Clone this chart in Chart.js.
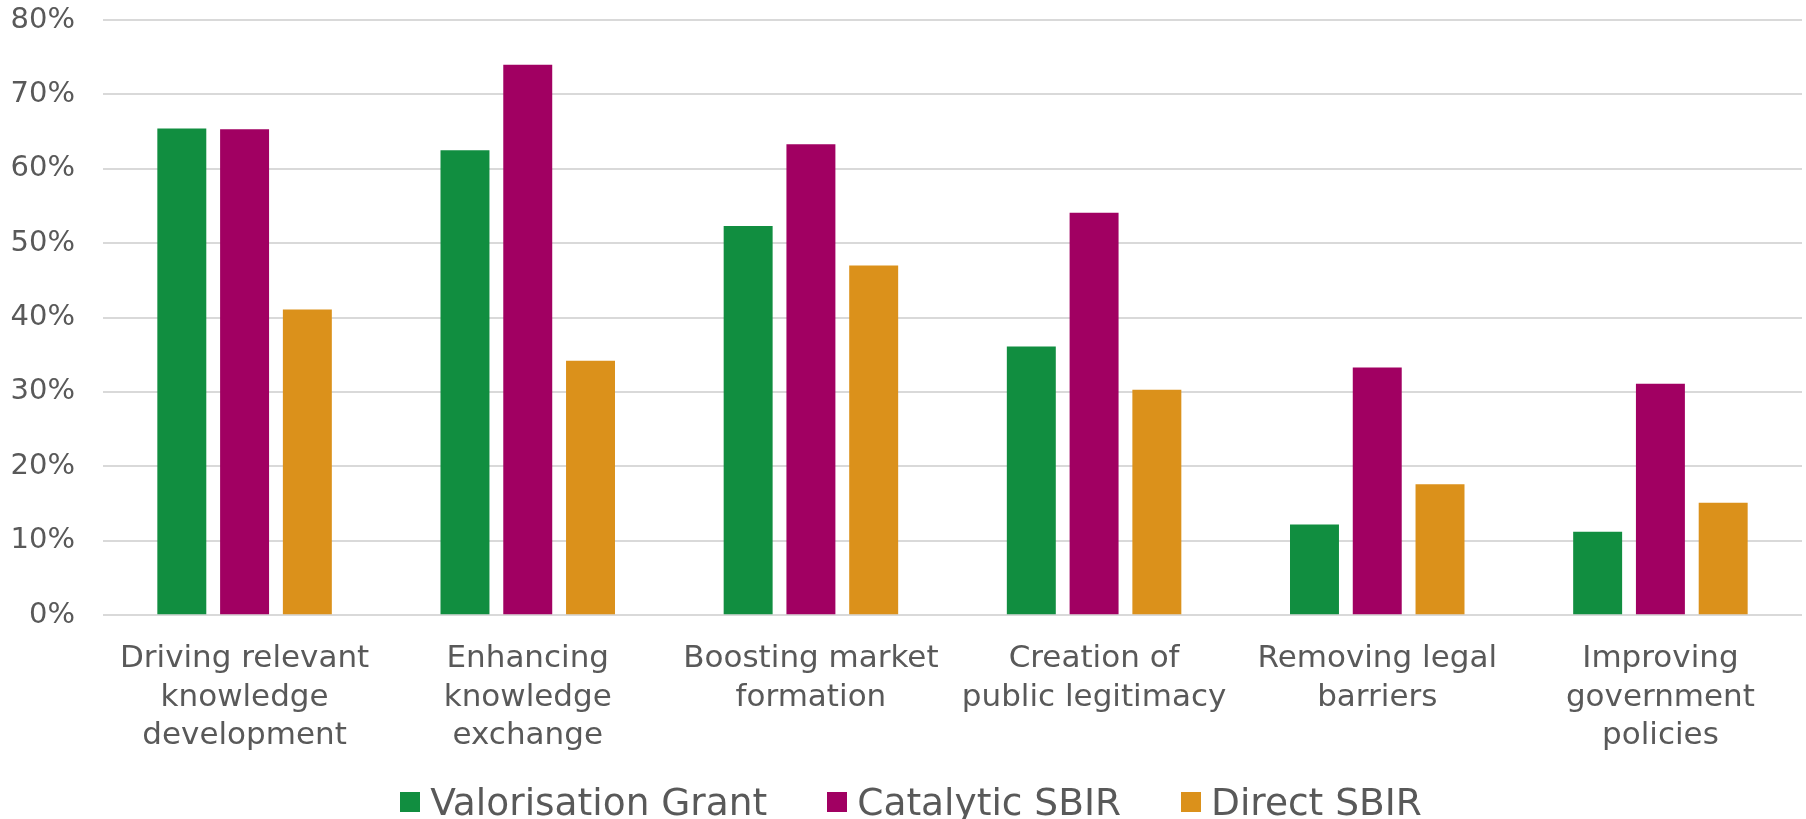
<!DOCTYPE html>
<html>
<head>
<meta charset="utf-8">
<title>Innovation system functions by instrument</title>
<script src="https://cdn.jsdelivr.net/npm/chart.js@4.4.1/dist/chart.umd.min.js"></script>
<style>
    html, body { margin: 0; padding: 0; background: #fff; }
    #wrap { width: 1806px; height: 819px; position: relative; }
    #legend {
        position: absolute;
        left: 16px;
        right: 0;
        top: 782px;
        height: 40px;
        display: flex;
        justify-content: center;
        align-items: center;
        font-family: Verdana, "DejaVu Sans", sans-serif;
        font-size: 37.5px;
        line-height: 40px;
        color: #595959;
    }
    .legend-item { display: flex; align-items: center; margin: 0 30px; white-space: nowrap; }
    .legend-box { width: 20px; height: 20px; margin-right: 10px; }
</style>
</head>
<body>
<div id="wrap">
    <canvas id="functions-chart"></canvas>
    <div id="legend"></div>
</div>
<script>
// Share of respondents per system function, in percent
const categories = [
    ['Driving relevant', 'knowledge', 'development'],
    ['Enhancing', 'knowledge', 'exchange'],
    ['Boosting market', 'formation'],
    ['Creation of', 'public legitimacy'],
    ['Removing legal', 'barriers'],
    ['Improving', 'government', 'policies']
];
const valorisationGrant = [65.4, 62.5, 52.3, 36.1, 12.2, 11.2];
const catalyticSbir = [65.3, 74.0, 63.3, 54.1, 33.3, 31.1];
const directSbir = [41.1, 34.2, 47.0, 30.3, 17.6, 15.1];
const yTicks = [0, 10, 20, 30, 40, 50, 60, 70, 80];

const textGrey = '#595959';
const fontFamily = 'Verdana, "DejaVu Sans", sans-serif';

let chart = null;

function initChart() {
    const ctx = document.getElementById('functions-chart').getContext('2d');
    chart = new Chart(ctx, {
        type: 'bar',
        data: {
            labels: categories,
            datasets: [
                { label: 'Valorisation Grant', data: valorisationGrant, backgroundColor: '#118e40' },
                { label: 'Catalytic SBIR', data: catalyticSbir, backgroundColor: '#a10062' },
                { label: 'Direct SBIR', data: directSbir, backgroundColor: '#db911b' }
            ]
        },
        options: {
            responsive: true,
            maintainAspectRatio: false,
            animation: false,
            datasets: {
                bar: {
                    categoryPercentage: 0.665,
                    barPercentage: 0.78
                }
            },
            layout: {
                // bottom space is taken by the HTML legend
                padding: { top: 20, right: 4, left: 0, bottom: 39 }
            },
            plugins: {
                tooltip: { enabled: false },
                legend: { display: false }
            },
            scales: {
                x: {
                    grid: { display: false, drawTicks: false },
                    border: { display: false },
                    ticks: {
                        color: textGrey,
                        padding: 25,
                        maxRotation: 0,
                        autoSkip: false,
                        font: { family: fontFamily, size: 31, lineHeight: 1.235 }
                    }
                },
                y: {
                    min: 0,
                    max: 80,
                    afterBuildTicks: (scale) => {
                        scale.ticks = yTicks.map(v => ({ value: v }));
                    },
                    afterFit: (scale) => {
                        scale.width = 103;
                        scale.paddingTop = 0;
                        scale.paddingBottom = 0;
                    },
                    grid: {
                        color: '#d9d9d9',
                        lineWidth: 2,
                        drawTicks: false
                    },
                    border: { display: false },
                    ticks: {
                        color: textGrey,
                        padding: 28,
                        font: { family: fontFamily, size: 29 },
                        callback: (v) => v + '%'
                    }
                }
            }
        }
    });
}

// Legend built from the chart datasets
function buildLegend() {
    const legend = document.getElementById('legend');
    legend.innerHTML = chart.data.datasets.map(ds => `
        <div class="legend-item">
            <span class="legend-box" style="background:${ds.backgroundColor}"></span>
            <span>${ds.label}</span>
        </div>
    `).join('');
}

window.addEventListener('DOMContentLoaded', () => {
    initChart();
    buildLegend();
});
</script>
</body>
</html>
